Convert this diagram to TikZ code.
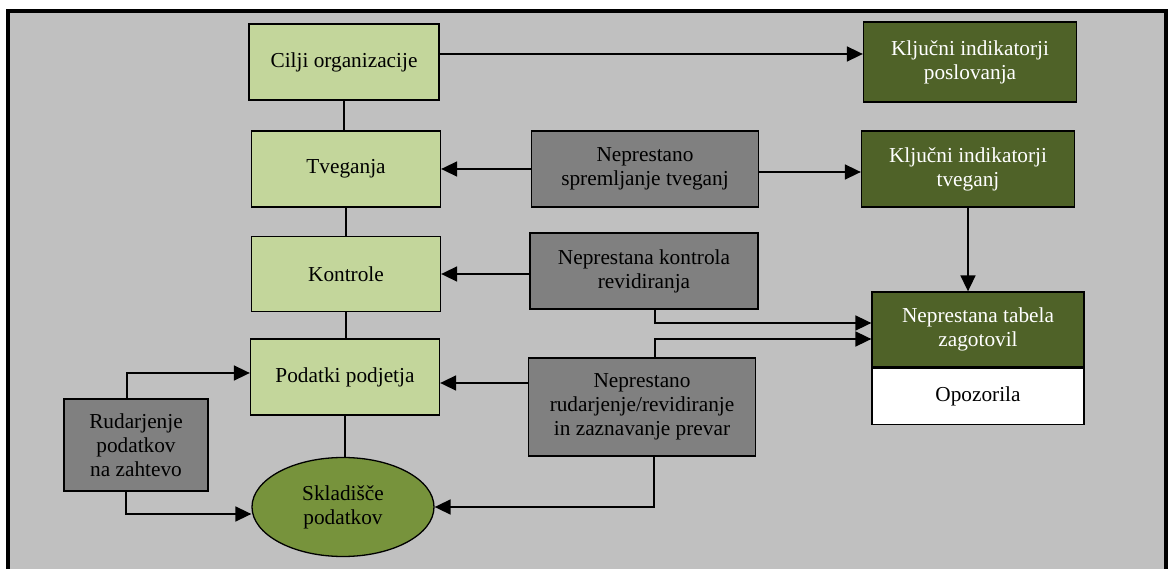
\documentclass[tikz,border=0pt]{standalone}
\usepackage{fontspec}
\setmainfont{Liberation Serif}
\usepackage{xcolor}
\usetikzlibrary{arrows.meta, positioning, shapes.geometric}

\definecolor{framegray}{HTML}{C0C0C0}
\definecolor{lightolive}{HTML}{C3D69B}
\definecolor{darkolive}{HTML}{4F6228}
\definecolor{midolive}{HTML}{77933C}
\definecolor{boxgray}{HTML}{808080}

\tikzset{
    basebox/.style={draw, line width=1.3pt, align=center, inner sep=2pt,
        font=\fontsize{21.3}{24}\selectfont},
    lightbox/.style={basebox, fill=lightolive, minimum width=189pt, minimum height=76pt},
    graybox/.style={basebox, fill=boxgray},
    darkbox/.style={basebox, fill=darkolive, text=white, minimum width=213pt},
    arr/.style={line width=1.7pt, -{Triangle[length=16pt, width=15pt]}},
    link/.style={line width=1.4pt}
}

\begin{document}
\begin{tikzpicture}[x=1pt, y=-1pt]
    \useasboundingbox (0,0) rectangle (1171,569);

    % Frame
    \fill[framegray] (8,11) rectangle (1166,569);
    \draw[line width=4pt] (8,569) -- (8,11) -- (1166,11) -- (1166,569);

    % Left column
    \node[lightbox, minimum width=190pt] (cilji) at (344,62) {Cilji organizacije};
    \node[lightbox] (tveg) at (346,169) {Tveganja};
    \node[lightbox, minimum height=75pt] (kontr) at (346,274) {Kontrole};
    \node[lightbox] (podat) at (345,377) {Podatki podjetja};
    \node[ellipse, basebox, fill=midolive, minimum width=182pt, minimum height=99pt] (sklad) at (343,507) {Skladišče\\podatkov};
    \node[graybox, minimum width=144pt, minimum height=92pt] (rudar) at (136,445) {Rudarjenje\\podatkov\\na zahtevo};

    % Middle column
    \node[graybox, minimum width=227pt, minimum height=76pt] (sprem) at (645,169) {Neprestano\\spremljanje tveganj};
    \node[graybox, minimum width=228pt, minimum height=76pt] (kontrrev) at (644,271) {Neprestana kontrola\\revidiranja};
    \node[graybox, minimum width=227pt, minimum height=98pt] (prevar) at (642,407) {Neprestano\\rudarjenje/revidiranje\\in zaznavanje prevar};

    % Right column
    \node[darkbox, minimum height=80pt] (kip) at (970,62) {Ključni indikatorji\\poslovanja};
    \node[darkbox, minimum height=76pt] (kit) at (968,169) {Ključni indikatorji\\tveganj};
    \node[darkbox, minimum width=212pt, minimum height=75pt] (tabela) at (978,329.5) {Neprestana tabela\\zagotovil};
    \node[basebox, fill=white, minimum width=212pt, minimum height=56pt, below=0pt of tabela] (opoz) {Opozorila};

    % Vertical links
    \draw[link] (cilji.south) -- (cilji.south |- tveg.north);
    \draw[link] (tveg.south) -- (tveg.south |- kontr.north);
    \draw[link] (kontr.south) -- (kontr.south |- podat.north);
    \draw[link] (podat.south) -- (podat.south |- sklad.north);

    % Arrows
    \draw[arr] ([yshift=8pt]cilji.east) -- ([yshift=8pt]cilji.east -| kip.west);
    \draw[arr] (sprem.west) -- (tveg.east);
    \draw[arr] ([yshift=-3pt]sprem.east) -- ([yshift=-3pt]sprem.east -| kit.west);
    \draw[arr] (kit.south) -- (kit.south |- tabela.north);
    \draw[arr] (kontrrev.west |- kontr.east) -- (kontr.east);
    \draw[arr] ([xshift=11pt]kontrrev.south) |- ([yshift=6.5pt]tabela.west);
    \draw[arr] ([xshift=13pt]prevar.north) |- ([yshift=-9.5pt]tabela.west);
    \draw[arr] ([yshift=-6pt]podat.east -| prevar.west) -- ([yshift=-6pt]podat.east);
    \draw[arr] ([xshift=12pt]prevar.south) |- (sklad.east);
    \draw[arr] ([xshift=-9pt]rudar.north) |- ([yshift=4pt]podat.west);
    \draw[arr] ([xshift=-10pt]rudar.south) |- ([yshift=-7pt]sklad.west);
\end{tikzpicture}
\end{document}
